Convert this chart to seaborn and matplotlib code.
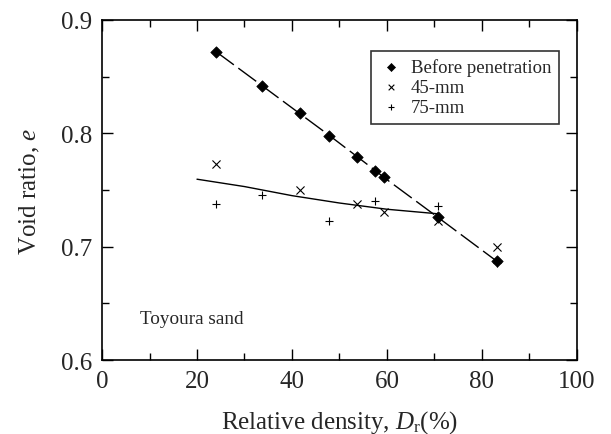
import matplotlib
matplotlib.use("Agg")
import matplotlib.pyplot as plt
import seaborn as sns
import pandas as pd
from matplotlib.ticker import MultipleLocator

# Before penetration (diamonds)
dr_before = [24.0, 33.7, 41.6, 47.9, 53.7, 57.6, 59.4, 70.7, 83.2]
e_before = [0.872, 0.842, 0.8175, 0.798, 0.7795, 0.767, 0.761, 0.726, 0.687]

# 45-mm (x markers)
dr_45 = [24.0, 41.6, 53.7, 59.4, 70.7, 83.2]
e_45 = [0.773, 0.750, 0.738, 0.731, 0.723, 0.700]

# 75-mm (+ markers)
dr_75 = [24.0, 33.7, 47.9, 57.6, 70.7, 83.2]
e_75 = [0.7375, 0.746, 0.723, 0.740, 0.7355, 0.686]

# trend curve through the penetrated points
dr_curve = [20.0, 30.0, 40.0, 50.0, 60.0, 70.7]
e_curve = [0.7595, 0.753, 0.745, 0.7385, 0.733, 0.729]

df_before = pd.DataFrame({"Dr": dr_before, "e": e_before})
df_45 = pd.DataFrame({"Dr": dr_45, "e": e_45})
df_75 = pd.DataFrame({"Dr": dr_75, "e": e_75})
df_curve = pd.DataFrame({"Dr": dr_curve, "e": e_curve})

sns.set_theme(style="ticks")
plt.rcParams["font.family"] = ["Liberation Serif", "DejaVu Serif"]
plt.rcParams["mathtext.fontset"] = "custom"
plt.rcParams["mathtext.rm"] = "Liberation Serif"
plt.rcParams["mathtext.it"] = "Liberation Serif:italic"

fig, ax = plt.subplots(figsize=(6.11, 4.35), dpi=100)
fig.subplots_adjust(left=0.167, right=0.944, top=0.952, bottom=0.170)

# Lines
sns.lineplot(data=df_before, x="Dr", y="e", ax=ax, color="black", lw=1.0,
             linestyle=(0, (16, 4)), legend=False)
sns.lineplot(data=df_curve, x="Dr", y="e", ax=ax, color="black", lw=1.0,
             legend=False)

# Points
sns.scatterplot(data=df_before, x="Dr", y="e", ax=ax, marker="D", s=34,
                color="black", edgecolor="black", linewidth=0.5,
                label="Before penetration", zorder=3)
sns.scatterplot(data=df_45, x="Dr", y="e", ax=ax, marker="x", s=34,
                color="black", linewidth=0.8, label="45-mm", zorder=3)
sns.scatterplot(data=df_75, x="Dr", y="e", ax=ax, marker="+", s=36,
                color="black", linewidth=0.8, label="75-mm", zorder=3)

ax.set_xlim(0, 100)
ax.set_ylim(0.6, 0.9)
ax.xaxis.set_major_locator(MultipleLocator(20))
ax.xaxis.set_minor_locator(MultipleLocator(10))
ax.yaxis.set_major_locator(MultipleLocator(0.1))
ax.yaxis.set_minor_locator(MultipleLocator(0.05))
ax.tick_params(which="both", direction="in", top=True, right=True,
               labelsize=18, color="black", width=1.0, pad=7)
ax.tick_params(which="major", length=8)
ax.tick_params(which="minor", length=5)
for sp in ax.spines.values():
    sp.set_linewidth(1.2)
    sp.set_color("black")

ax.set_xlabel(r"Relative density, $\it{D}_\mathrm{r}$(%)", fontsize=18, labelpad=12)
ax.set_ylabel(r"Void ratio, $\it{e}$", fontsize=18, labelpad=14)

ax.text(7.9, 0.637, "Toyoura sand", fontsize=13.8, ha="left", va="center")

leg = ax.legend(loc="upper right", bbox_to_anchor=(0.962, 0.909),
                fontsize=13.5, frameon=True, fancybox=False, edgecolor="black",
                markerscale=0.7, handletextpad=0.4, labelspacing=0.15,
                borderpad=0.4, handlelength=1.3, borderaxespad=0.0)
leg.get_frame().set_linewidth(1.2)

plt.savefig("out.png", dpi=100)
